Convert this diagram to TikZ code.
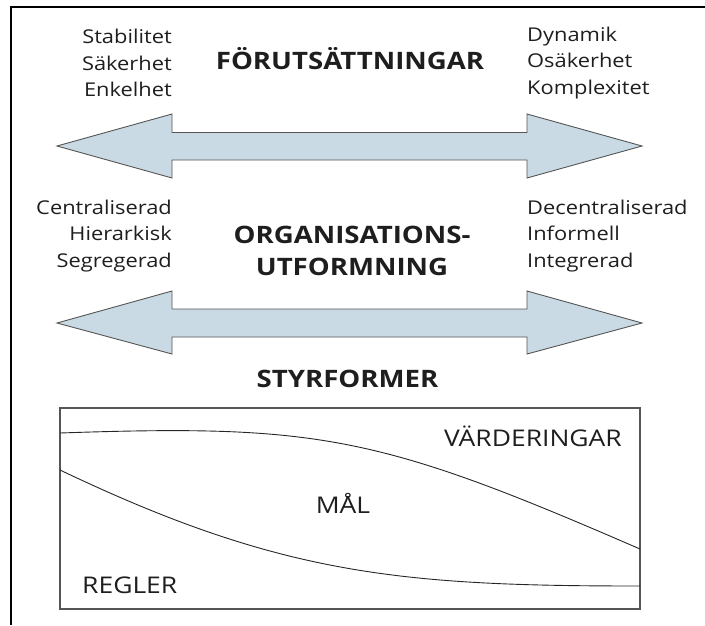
\documentclass[tikz,border=0pt]{standalone}
\usepackage{fontspec}
\setmainfont{Open Sans}[FakeStretch=1.15]
\usepackage{tikz}
\usetikzlibrary{positioning}
\definecolor{frmGray}{RGB}{85, 85, 85}
\definecolor{arrBlue}{RGB}{201, 218, 228}
\definecolor{txtDark}{RGB}{30, 30, 30}

\begin{document}
\begin{tikzpicture}[x=1pt, y=-1pt,
    every node/.style={inner sep=0pt, text=txtDark},
    plain/.style={font=\fontsize{19}{26.5}\selectfont},
    head/.style={font=\fontsize{24}{32}\selectfont\bfseries, align=center},
    boxlabel/.style={font=\fontsize{23}{28}\selectfont},
    bigarrow/.style={fill=arrBlue, draw=frmGray, line width=0.9pt, line join=miter},
    curve/.style={draw=black!85, line width=0.9pt}]
    \useasboundingbox (0,0) rectangle (705,625);
    % frame
    \draw[line width=2.2pt] (705,7) -- (11,7) -- (11,625);

    % upper row
    \node[plain, align=right, anchor=east] (pre-l) at (172,63) {Stabilitet\\Säkerhet\\Enkelhet};
    \node[head, anchor=base] (pre) at (350,69) {FÖRUTSÄTTNINGAR};
    \node[plain, align=left, anchor=west] (pre-r) at (527,63) {Dynamik\\Osäkerhet\\Komplexitet};
    \draw[bigarrow] (57,146) -- (172,114) -- (172,132.5) -- (527,132.5) -- (527,114)
        -- (642,146) -- (527,178) -- (527,160) -- (172,160) -- (172,178) -- cycle;

    % middle row
    \node[plain, align=right, anchor=east] (org-l) at (172,236) {Centraliserad\\Hierarkisk\\Segregerad};
    \node[head] (org) at (352,251) {ORGANISATIONS-\\UTFORMNING};
    \node[plain, align=left, anchor=west] (org-r) at (527,236) {Decentraliserad\\Informell\\Integrerad};
    \draw[bigarrow] (57,323) -- (172,291) -- (172,309) -- (527,309) -- (527,291)
        -- (642,323) -- (527,354) -- (527,337) -- (172,337) -- (172,354) -- cycle;

    % lower box
    \node[head, anchor=base] (styr) at (347.5,387) {STYRFORMER};
    \draw[draw=frmGray, line width=1.3pt] (60,408) rectangle (640,609);
    \draw[curve] (60,433) .. controls (320,424) and (380,436) .. (640,549);
    \draw[curve] (60,470) .. controls (280,575) and (400,586) .. (640,586);
    \node[boxlabel, anchor=base east] (vard) at (622,446) {VÄRDERINGAR};
    \node[boxlabel, anchor=base] (mal) at (343,513) {MÅL};
    \node[boxlabel, anchor=base west] (regl) at (82,593) {REGLER};
\end{tikzpicture}
\end{document}
